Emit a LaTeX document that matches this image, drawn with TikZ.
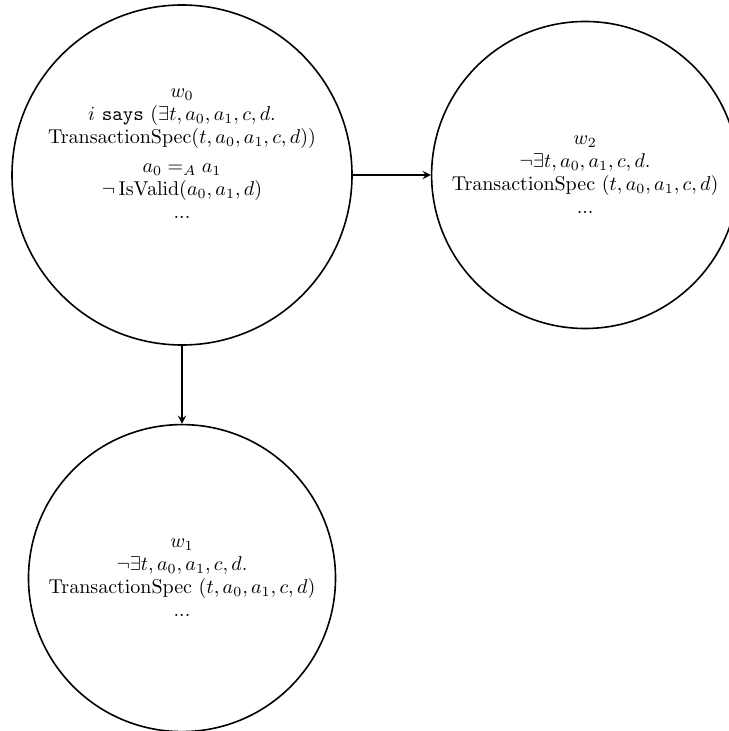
\documentclass[tikz,border=0pt]{standalone}
\usetikzlibrary{positioning}

\begin{document}
\begin{tikzpicture}[>=stealth, node distance=39pt,
    world/.style={circle, draw, line width=0.8pt, align=center, inner sep=0pt,
        font=\fontsize{10}{11.5}\selectfont}]
    \useasboundingbox (0,0) rectangle (364pt,-365.5pt);

    % Worlds
    \node[world, minimum size=170pt] (w0) at (91pt,-87.5pt)
        {$w_0$\\
         $i$ \texttt{says} $(\exists t, a_0, a_1, c, d.$\\
         $\mathrm{TransactionSpec}(t, a_0, a_1, c, d))$\\[3pt]
         $a_0 =_A a_1$\\
         $\neg\,\mathrm{IsValid}(a_0, a_1, d)$\\
         ...\\[10pt]};
    \node[world, minimum size=153.5pt, right=of w0] (w2)
        {$w_2$\\
         $\neg\exists t, a_0, a_1, c, d.$\\
         $\mathrm{TransactionSpec}\ (t, a_0, a_1, c, d)$\\
         ...};
    \node[world, minimum size=153.5pt, below=of w0] (w1)
        {$w_1$\\
         $\neg\exists t, a_0, a_1, c, d.$\\
         $\mathrm{TransactionSpec}\ (t, a_0, a_1, c, d)$\\
         ...};

    % Transitions
    \draw[->, line width=0.8pt] (w0) -- (w2);
    \draw[->, line width=0.8pt] (w0) -- (w1);
\end{tikzpicture}
\end{document}
